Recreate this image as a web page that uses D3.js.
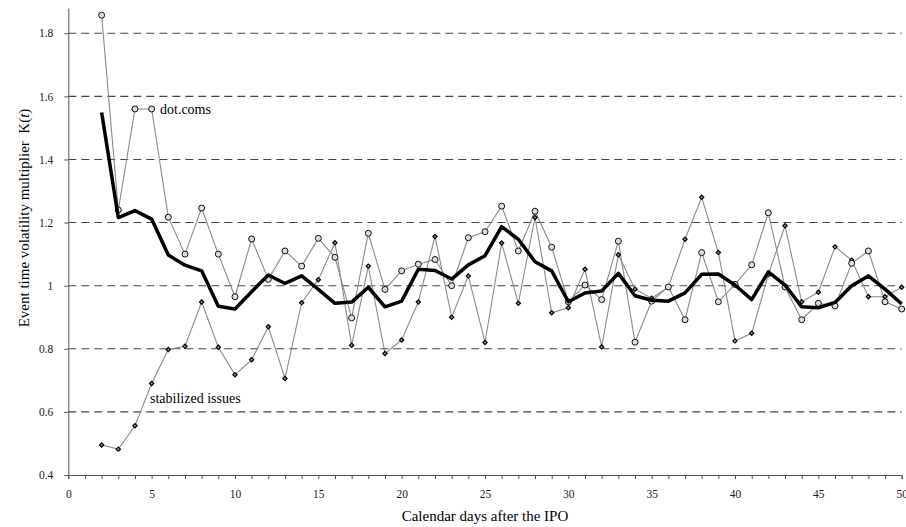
<!DOCTYPE html>
<html>
<head>
<meta charset="utf-8">
<script src="https://cdn.jsdelivr.net/npm/d3@7"></script>
<style>
  body { margin: 0; background: #fff; }
  svg { display: block; font-family: "Liberation Serif", "DejaVu Serif", serif; }
</style>
</head>
<body>
<svg width="906" height="527"></svg>
<script>
// Days after IPO (2..50)
var days = d3.range(2, 51);

// dot.coms (circle markers)
var dotcoms = [1.857, 1.24, 1.56, 1.56, 1.217, 1.10, 1.246, 1.10, 0.965, 1.148,
               1.02, 1.11, 1.062, 1.15, 1.09, 0.898, 1.166, 0.988, 1.047, 1.068,
               1.083, 1.0, 1.152, 1.171, 1.252, 1.11, 1.236, 1.122, 0.949, 1.002,
               0.956, 1.141, 0.821, 0.951, 0.996, 0.892, 1.105, 0.949, 1.004, 1.066,
               1.231, 0.996, 0.892, 0.944, 0.936, 1.071, 1.11, 0.949, 0.926];

// stabilized issues (diamond markers)
var stabilized = [0.495, 0.482, 0.556, 0.69, 0.798, 0.808, 0.948, 0.805, 0.718, 0.765,
                  0.87, 0.706, 0.946, 1.019, 1.136, 0.811, 1.062, 0.785, 0.828, 0.948,
                  1.156, 0.90, 1.031, 0.82, 1.135, 0.944, 1.216, 0.914, 0.93, 1.052,
                  0.806, 1.098, 0.989, 0.96, 0.996, 1.147, 1.28, 1.105, 0.825, 0.849,
                  1.035, 1.19, 0.949, 0.979, 1.123, 1.081, 0.965, 0.965, 0.995];

// all IPOs (bold line)
var allIpos = [1.549, 1.216, 1.238, 1.211, 1.097, 1.065, 1.047, 0.935, 0.926, 0.981,
               1.034, 1.007, 1.031, 0.988, 0.944, 0.948, 0.995, 0.933, 0.951, 1.052,
               1.048, 1.021, 1.066, 1.095, 1.187, 1.147, 1.076, 1.047, 0.949, 0.977,
               0.983, 1.039, 0.968, 0.954, 0.951, 0.977, 1.036, 1.037, 1.002, 0.956,
               1.044, 1.002, 0.933, 0.93, 0.947, 1.0, 1.031, 0.989, 0.942];

var yTicks = [0.4, 0.6, 0.8, 1.0, 1.2, 1.4, 1.6, 1.8];

var svg = d3.select('svg');

var x = d3.scaleLinear().domain([0, 50]).range([68.3, 901.7]);
var y = d3.scaleLinear().domain([0.4, 1.88]).range([475, 8]);

// dashed gridlines
svg.append('g').selectAll('line')
   .data(yTicks.slice(1))
   .enter().append('line')
   .attr('x1', x(0)).attr('x2', x(50))
   .attr('y1', function(d){ return y(d); })
   .attr('y2', function(d){ return y(d); })
   .attr('stroke', '#444')
   .attr('stroke-width', 1.1)
   .attr('stroke-dasharray', '8,5');

// x axis: ticks every day, labels every 5
var xAxis = d3.axisBottom(x)
    .tickValues(d3.range(0, 51, 1))
    .tickSize(4)
    .tickFormat(function(d){ return d % 5 === 0 ? d : ''; });

var gx = svg.append('g')
    .attr('transform', 'translate(0,' + y(0.4) + ')')
    .call(xAxis);
gx.select('.domain').attr('stroke', '#555');
gx.selectAll('.tick line').attr('stroke', '#555');
gx.selectAll('.tick text')
  .attr('font-family', '"Liberation Serif", serif')
  .attr('font-size', 11.5)
  .attr('dy', '1.35em')
  .attr('fill', '#222');

// y axis
var yAxis = d3.axisLeft(y)
    .tickValues(yTicks)
    .tickSize(4)
    .tickSizeOuter(0)
    .tickFormat(function(d){ return d === 1 ? '1' : d3.format('.1f')(d); });

var gy = svg.append('g')
    .attr('transform', 'translate(' + x(0) + ',0)')
    .call(yAxis);
gy.select('.domain').attr('stroke', '#555');
gy.selectAll('.tick line').attr('stroke', '#555');
gy.selectAll('.tick text')
  .attr('font-family', '"Liberation Serif", serif')
  .attr('font-size', 11.5)
  .attr('x', -15)
  .attr('fill', '#222');

var line = d3.line()
    .x(function(d, i){ return x(days[i]); })
    .y(function(d){ return y(d); });

// thin series lines
svg.append('path').datum(stabilized)
   .attr('d', line).attr('fill', 'none')
   .attr('stroke', '#8a8a8a').attr('stroke-width', 1.1);

svg.append('path').datum(dotcoms)
   .attr('d', line).attr('fill', 'none')
   .attr('stroke', '#8a8a8a').attr('stroke-width', 1.1);

// diamond markers (small rotated squares)
svg.append('g').selectAll('path')
   .data(stabilized)
   .enter().append('path')
   .attr('d', d3.symbol().type(d3.symbolSquare).size(9))
   .attr('transform', function(d, i){ return 'translate(' + x(days[i]) + ',' + y(d) + ') rotate(45)'; })
   .attr('fill', '#999')
   .attr('stroke', '#000')
   .attr('stroke-width', 1.2);

// circle markers
svg.append('g').selectAll('circle')
   .data(dotcoms)
   .enter().append('circle')
   .attr('cx', function(d, i){ return x(days[i]); })
   .attr('cy', function(d){ return y(d); })
   .attr('r', 3)
   .attr('fill', '#ddd')
   .attr('stroke', '#111')
   .attr('stroke-width', 1);

// bold line
svg.append('path').datum(allIpos)
   .attr('d', line).attr('fill', 'none')
   .attr('stroke', '#000').attr('stroke-width', 3.5)
   .attr('stroke-linejoin', 'round');

// series labels
svg.append('text').attr('x', 160).attr('y', 114)
   .attr('font-size', 14).text('dot.coms');
svg.append('text').attr('x', 150).attr('y', 403)
   .attr('font-size', 14).text('stabilized issues');

// axis titles
svg.append('text')
   .attr('x', x(25)).attr('y', 521)
   .attr('text-anchor', 'middle')
   .attr('font-size', 15)
   .text('Calendar days after the IPO');

var yl = svg.append('text')
   .attr('transform', 'translate(29,218) rotate(-90)')
   .attr('text-anchor', 'middle')
   .attr('font-size', 15);
yl.append('tspan').text('Event time volatility multiplier\u00a0\u00a0K(');
yl.append('tspan').attr('font-style', 'italic').text('t');
yl.append('tspan').text(')');
</script>
</body>
</html>
